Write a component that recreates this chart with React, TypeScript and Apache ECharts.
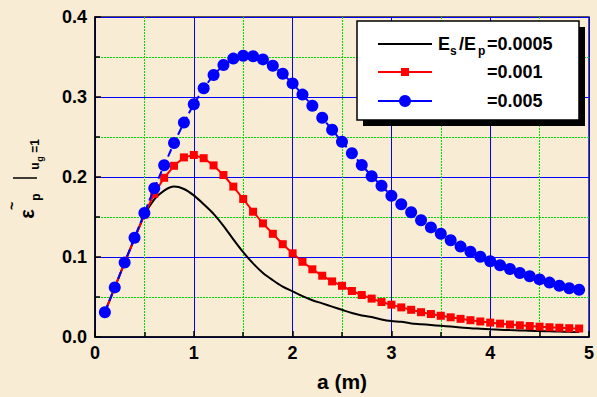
import React, { useEffect, useRef } from "react";
import * as echarts from "echarts";

const xValues = [0.1,0.2,0.3,0.4,0.5,0.6,0.7,0.8,0.9,1.0,1.1,1.2,1.3,1.4,1.5,1.6,1.7,1.8,1.9,2.0,2.1,2.2,2.3,2.4,2.5,2.6,2.7,2.8,2.9,3.0,3.1,3.2,3.3,3.4,3.5,3.6,3.7,3.8,3.9,4.0,4.1,4.2,4.3,4.4,4.5,4.6,4.7,4.8,4.9];

const ratio0005 = [0.031,0.062,0.093,0.123,0.152,0.172,0.183,0.188,0.185,0.177,0.166,0.154,0.139,0.122,0.106,0.092,0.080,0.071,0.063,0.057,0.051,0.046,0.042,0.038,0.034,0.030,0.027,0.025,0.022,0.020,0.019,0.017,0.016,0.015,0.014,0.013,0.012,0.011,0.0103,0.0096,0.0091,0.0086,0.0082,0.0078,0.0075,0.0071,0.0068,0.0065,0.0062];

const ratio001 = [0.031,0.062,0.093,0.123,0.153,0.179,0.199,0.214,0.2245,0.2275,0.2235,0.2145,0.2025,0.188,0.1725,0.1566,0.142,0.129,0.116,0.1046,0.094,0.0846,0.0766,0.0695,0.064,0.0575,0.0525,0.048,0.0437,0.0404,0.037,0.034,0.031,0.0287,0.0265,0.0246,0.0227,0.021,0.0194,0.018,0.0167,0.0156,0.0146,0.0137,0.0129,0.0122,0.0116,0.011,0.0106];

const ratio005 = [0.031,0.062,0.093,0.124,0.155,0.186,0.2146,0.2425,0.268,0.291,0.311,0.3275,0.34,0.348,0.3516,0.351,0.347,0.339,0.329,0.317,0.303,0.289,0.274,0.259,0.244,0.2296,0.215,0.201,0.189,0.1766,0.166,0.156,0.146,0.137,0.129,0.121,0.113,0.1066,0.1004,0.0946,0.0896,0.085,0.080,0.076,0.072,0.068,0.064,0.061,0.059];

const seriesNames = ["Es/Ep=0.0005", "=0.001", "=0.005"];
const legendTexts = ["=0.0005", "=0.001", "=0.005"];

const FONT = "Arial, 'Liberation Sans', Helvetica, sans-serif";
const BG = "#f9ecd4";

function pairs(ys: number[]) {
  return xValues.map((x, i) => [x, ys[i]]);
}

function rtext(x: number, y: number, text: string, size: number) {
  return {
    type: "text",
    x,
    y,
    rotation: Math.PI / 2,
    style: {
      text,
      fill: "#000",
      font: `bold ${size}px ${FONT}`,
      align: "center",
      verticalAlign: "middle",
      textAlign: "center",
      textVerticalAlign: "middle",
    },
  };
}

function ltext(x: number, y: number, text: string, size: number) {
  return {
    type: "text",
    x,
    y,
    style: {
      text,
      fill: "#000",
      font: `bold ${size}px ${FONT}`,
      align: "left",
      verticalAlign: "middle",
      textAlign: "left",
      textVerticalAlign: "middle",
    },
  };
}

export default function App() {
  const ref = useRef<HTMLDivElement>(null);
  useEffect(() => {
    document.body.style.margin = "0";
    const chart = echarts.init(ref.current!, null, { renderer: "svg", width: 597, height: 397 });
    const axisLabel = { color: "#000", fontSize: 18, fontWeight: "bold", fontFamily: FONT };
    const major = { show: true, lineStyle: { color: "#0000ff", width: 1 } };
    const minor = { show: true, lineStyle: { color: "#00e000", width: 1, type: [2, 1] } };
    const option: any = {
      animation: false,
      backgroundColor: BG,
      grid: {
        left: 95,
        top: 17,
        width: 496,
        height: 320,
        show: true,
        borderColor: "#222",
        borderWidth: 1.5,
        backgroundColor: "transparent",
      },
      xAxis: {
        type: "value",
        min: 0,
        max: 5,
        interval: 1,
        name: "a (m)",
        nameLocation: "middle",
        nameGap: 34,
        nameTextStyle: { color: "#000", fontSize: 21, fontWeight: "bold", fontFamily: FONT },
        axisLine: { show: true, lineStyle: { color: "#000", width: 1.5 } },
        axisTick: { show: true, inside: true, length: 6, lineStyle: { color: "#000", width: 1.5 } },
        minorTick: { show: true, splitNumber: 2, length: 5, lineStyle: { color: "#000", width: 1.5 } },
        splitLine: major,
        minorSplitLine: minor,
        axisLabel: { ...axisLabel, margin: 7 },
      },
      yAxis: {
        type: "value",
        min: 0,
        max: 0.4,
        interval: 0.1,
        axisLine: { show: true, lineStyle: { color: "#000", width: 1.5 } },
        axisTick: { show: true, inside: true, length: 6, lineStyle: { color: "#000", width: 1.5 } },
        minorTick: { show: true, splitNumber: 2, length: 5, lineStyle: { color: "#000", width: 1.5 } },
        splitLine: major,
        minorSplitLine: minor,
        axisLabel: { ...axisLabel, margin: 8, formatter: (v: number) => v.toFixed(1) },
      },
      series: [
        {
          name: seriesNames[0],
          type: "line",
          data: pairs(ratio0005),
          symbol: "none",
          smooth: 0.3,
          lineStyle: { color: "#000", width: 2 },
          itemStyle: { color: "#000" },
          z: 3,
        },
        {
          name: seriesNames[1],
          type: "line",
          data: pairs(ratio001),
          symbol: "rect",
          symbolSize: 8,
          lineStyle: { color: "#ff0000", width: 2 },
          itemStyle: { color: "#ff0000" },
          z: 4,
        },
        {
          name: seriesNames[2],
          type: "line",
          data: pairs(ratio005),
          symbol: "circle",
          symbolSize: 12,
          lineStyle: { color: "#0000ff", width: 2, type: "dashed" },
          itemStyle: { color: "#0000ff" },
          z: 5,
        },
      ],
      graphic: [
        { type: "rect", shape: { x: 363, y: 27, width: 222, height: 99 }, style: { fill: "#000" }, z: 10 },
        { type: "rect", shape: { x: 357, y: 21, width: 222, height: 99 }, style: { fill: "#fff", stroke: "#000", lineWidth: 1.5 }, z: 11 },
        { type: "line", shape: { x1: 378, y1: 44, x2: 432, y2: 44 }, style: { stroke: "#000", lineWidth: 2 }, z: 12 },
        { type: "line", shape: { x1: 378, y1: 72, x2: 432, y2: 72 }, style: { stroke: "#ff0000", lineWidth: 2 }, z: 12 },
        { type: "rect", shape: { x: 401, y: 68, width: 8, height: 8 }, style: { fill: "#ff0000" }, z: 12 },
        { type: "line", shape: { x1: 378, y1: 101, x2: 432, y2: 101 }, style: { stroke: "#0000ff", lineWidth: 2 }, z: 12 },
        { type: "circle", shape: { cx: 405, cy: 101, r: 6 }, style: { fill: "#0000ff" }, z: 12 },
        { ...ltext(438, 44, "E", 18), z: 12 },
        { ...ltext(450, 51, "s", 12), z: 12 },
        { ...ltext(459, 44, "/E", 18), z: 12 },
        { ...ltext(478, 51, "p", 12), z: 12 },
        { ...ltext(487, 44, legendTexts[0], 18), z: 12 },
        { ...ltext(487, 72, legendTexts[1], 18), z: 12 },
        { ...ltext(487, 101, legendTexts[2], 18), z: 12 },
        { ...rtext(27, 214, "ε", 20), z: 12 },
        { ...rtext(12, 206, "~", 14), z: 12 },
        { ...rtext(36, 197, "p", 12), z: 12 },
        { type: "line", shape: { x1: 13, y1: 178, x2: 37, y2: 178 }, style: { stroke: "#000", lineWidth: 1.5 }, z: 12 },
        { ...rtext(35, 166, "u", 12), z: 12 },
        { ...rtext(40, 159, "g", 9), z: 12 },
        { ...rtext(35, 146, "=1", 12), z: 12 },
      ],
    };
    chart.setOption(option);
    return () => chart.dispose();
  }, []);
  return (
    <div
      ref={ref}
      style={{ position: "fixed", left: 0, top: 0, width: 597, height: 397, background: BG }}
    />
  );
}
